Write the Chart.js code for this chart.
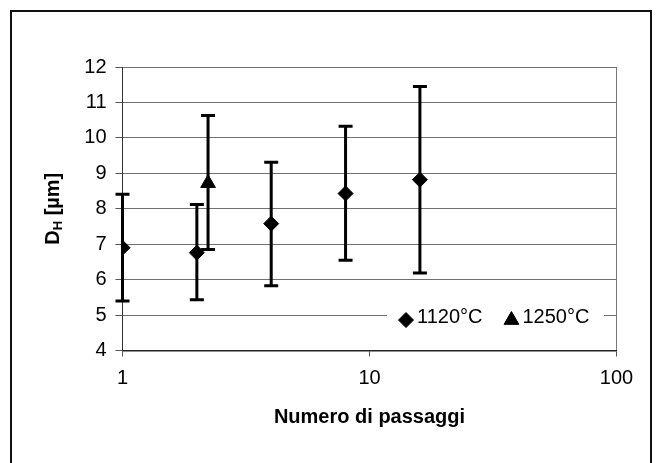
<!DOCTYPE html>
<html>
<head>
<meta charset="utf-8">
<script src="https://cdn.jsdelivr.net/npm/chart.js@4"></script>
<style>
  html, body { margin: 0; padding: 0; background: #fff; }
  #wrap { width: 658px; height: 463px; }
</style>
</head>
<body>
<div id="wrap"><canvas id="chart" width="658" height="463"></canvas></div>
<script>
// passes (x), mean grain size and error bar ends
const passes1120 = [1, 2, 4, 8, 16];
const dh1120 = [6.9, 6.76, 7.58, 8.43, 8.82];
const hi1120 = [8.41, 8.12, 9.31, 10.33, 11.45];
const lo1120 = [5.40, 5.43, 5.83, 6.55, 6.19];

const passes1250 = [2.22];
const dh1250 = [8.72];
const hi1250 = [10.63];
const lo1250 = [6.85];

const xTicks = [1, 10, 100];
const yMin = 4, yMax = 12;

const FONT = "'Liberation Sans', Arial, sans-serif";

function toPoints(xs, ys, his, los) {
    return xs.map((x, i) => ({ x: x, y: ys[i], hi: his[i], lo: los[i] }));
}

// error bars drawn through the scales, under the markers
const errorBars = {
    id: 'errorBars',
    beforeDatasetsDraw(chart) {
        const ctx = chart.ctx;
        const xs = chart.scales.x, ys = chart.scales.y;
        ctx.save();
        ctx.strokeStyle = '#000';
        ctx.lineWidth = 3;
        chart.data.datasets.forEach(ds => {
            ds.data.forEach(p => {
                const px = xs.getPixelForValue(p.x);
                const top = ys.getPixelForValue(p.hi);
                const bot = ys.getPixelForValue(p.lo);
                ctx.beginPath();
                ctx.moveTo(px, top);
                ctx.lineTo(px, bot);
                ctx.moveTo(px - 7, top);
                ctx.lineTo(px + 7, top);
                ctx.moveTo(px - 7, bot);
                ctx.lineTo(px + 7, bot);
                ctx.stroke();
            });
        });
        ctx.restore();
    }
};

// outer frame, y title with subscript, and the in-plot legend
const extras = {
    id: 'extras',
    afterDraw(chart) {
        const ctx = chart.ctx;
        const area = chart.chartArea;
        ctx.save();

        ctx.strokeStyle = '#111';
        ctx.lineWidth = 2;
        ctx.strokeRect(11, 11, 640, 470);

        // y title: D_H [µm]
        ctx.translate(53, (area.top + area.bottom) / 2);
        ctx.rotate(-Math.PI / 2);
        ctx.fillStyle = '#000';
        ctx.textBaseline = 'middle';
        const big = 'bold 20px ' + FONT, small = 'bold 13px ' + FONT;
        ctx.font = big; const wD = ctx.measureText('D').width;
        ctx.font = small; const wH = ctx.measureText('H').width;
        ctx.font = big; const wR = ctx.measureText(' [\u00b5m]').width;
        let x0 = -(wD + wH + wR) / 2;
        ctx.font = big; ctx.fillText('D', x0, 0);
        ctx.font = small; ctx.fillText('H', x0 + wD, 5);
        ctx.font = big; ctx.fillText(' [\u00b5m]', x0 + wD + wH, 0);
        ctx.restore();

        // legend inside the plot, sitting on the 5 gridline
        const ys = chart.scales.y;
        const ly = ys.getPixelForValue(5) + 2;
        ctx.save();
        ctx.fillStyle = '#fff';
        ctx.fillRect(387, ly - 12, 217, 24);
        ctx.font = '20px ' + FONT;
        ctx.textBaseline = 'middle';
        let lx = 406;
        chart.data.datasets.forEach(ds => {
            Chart.helpers.drawPoint(ctx, {
                pointStyle: ds.pointStyle, radius: ds.pointRadius, rotation: 0,
                borderWidth: 1
            }, lx, ly + 3);
            ctx.fillStyle = '#000';
            ctx.strokeStyle = '#000';
            ctx.fill();
            ctx.fillText(ds.label, lx + 11, ly);
            lx += ctx.measureText(ds.label).width + 40;
        });
        ctx.restore();
    }
};

new Chart(document.getElementById('chart'), {
    type: 'scatter',
    data: {
        datasets: [
            {
                label: '1120\u00b0C',
                data: toPoints(passes1120, dh1120, hi1120, lo1120),
                pointStyle: 'rectRot',
                pointRadius: 7.5,
                backgroundColor: '#000',
                borderColor: '#000'
            },
            {
                label: '1250\u00b0C',
                data: toPoints(passes1250, dh1250, hi1250, lo1250),
                pointStyle: 'triangle',
                pointRadius: 8.5,
                backgroundColor: '#000',
                borderColor: '#000'
            }
        ]
    },
    options: {
        responsive: false,
        animation: false,
        events: [],
        layout: { padding: { left: 0, top: 67, right: 41.5, bottom: 0 } },
        plugins: {
            legend: { display: false },
            tooltip: { enabled: false }
        },
        scales: {
            x: {
                type: 'logarithmic',
                min: 1,
                max: 100,
                afterBuildTicks: scale => { scale.ticks = xTicks.map(v => ({ value: v })); },
                afterFit: scale => { scale.height = 463 - 350.5; },
                ticks: {
                    color: '#000',
                    font: { family: FONT, size: 20 },
                    padding: 10,
                    maxRotation: 0,
                    autoSkip: false,
                    callback: v => String(v)
                },
                grid: {
                    drawOnChartArea: true,
                    color: c => (c.tick && c.tick.value === 100 ? '#777' : 'rgba(0,0,0,0)'),
                    tickColor: '#555',
                    tickLength: 6,
                    lineWidth: 1
                },
                border: { color: '#222', width: 1.5 },
                title: {
                    display: true,
                    text: 'Numero di passaggi',
                    color: '#000',
                    font: { family: FONT, size: 20, weight: 'bold' },
                    padding: { top: 0, bottom: 34 }
                }
            },
            y: {
                min: yMin,
                max: yMax,
                afterFit: scale => { scale.width = 122.5; },
                ticks: {
                    stepSize: 1,
                    color: '#000',
                    font: { family: FONT, size: 20 },
                    padding: 9
                },
                grid: {
                    color: '#707070',
                    tickColor: '#555',
                    tickLength: 7,
                    lineWidth: 1
                },
                border: { color: '#333', width: 1 }
            }
        }
    },
    plugins: [errorBars, extras]
});
</script>
</body>
</html>
